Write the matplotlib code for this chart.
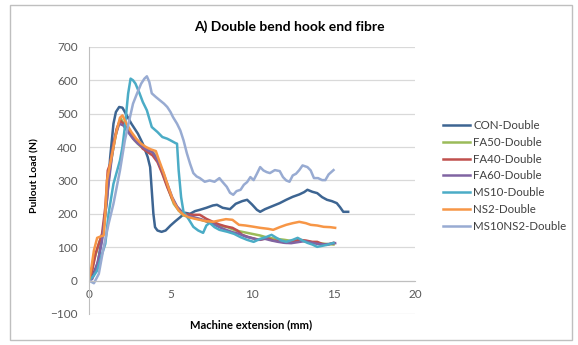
import numpy as np
import matplotlib
matplotlib.use('Agg')
from matplotlib import pyplot as plt
from matplotlib.patches import Rectangle

plt.rcParams['font.family'] = ['Lato', 'DejaVu Sans']

labels = ['CON-Double', 'FA50-Double', 'FA40-Double', 'FA60-Double',
          'MS10-Double', 'NS2-Double', 'MS10NS2-Double']
colors = ['#3d6592', '#9bbb59', '#c0504d', '#8064a2', '#4bacc6', '#f79646', '#98abd2']

con_x = [0, 0.2, 0.55, 0.85, 1.1, 1.3, 1.5, 1.65, 1.85, 2.05, 2.2, 2.6, 3.0, 3.3, 3.6, 3.75, 3.85, 3.95, 4.05, 4.2,
         4.45, 4.7, 5.0, 5.3, 5.6, 5.9, 6.2, 6.5, 6.8, 7.2, 7.6, 7.85, 8.2, 8.65, 9.0, 9.4, 9.7, 10.0, 10.3, 10.5,
         10.8, 11.2, 11.7, 12.1, 12.5, 12.9, 13.2, 13.4, 13.7, 14.0, 14.3, 14.6, 14.9, 15.2, 15.4, 15.6, 15.9]
con_y = [0, 12, 55, 143, 240, 370, 470, 505, 520, 518, 505, 470, 440, 410, 370, 340, 270, 200, 160, 150,
         146, 150, 165, 178, 190, 203, 200, 208, 212, 218, 225, 227, 218, 214, 230, 238, 242, 228, 212, 206,
         214, 222, 232, 242, 251, 258, 265, 272, 266, 262, 250, 242, 238, 232, 220, 206, 206]

fa50_x = [0, 0.3, 0.6, 0.9, 1.1, 1.3, 1.5, 1.7, 1.95, 2.2, 2.5, 2.8, 3.1, 3.4, 3.7, 4.0, 4.3, 4.6, 4.9, 5.2,
          5.5, 5.8, 6.2, 6.6, 7.0, 7.5, 8.0, 8.5, 9.0, 9.5, 10.0, 10.5, 11.0, 11.5, 12.0, 12.5, 13.0, 13.5, 14.0, 14.5, 15.0]
fa50_y = [0, 60, 110, 150, 260, 340, 400, 450, 485, 465, 440, 420, 405, 395, 390, 380, 350, 310, 270, 230,
          210, 195, 190, 186, 180, 172, 165, 160, 150, 145, 140, 135, 128, 125, 122, 118, 120, 116, 112, 110, 108]

fa40_x = [0, 0.2, 0.4, 0.6, 0.8, 1.0, 1.15, 1.3, 1.5, 1.7, 1.9, 2.1, 2.4, 2.7, 3.0, 3.3, 3.6, 3.9, 4.2, 4.5,
          4.8, 5.1, 5.4, 5.7, 6.0, 6.4, 6.8, 7.2, 7.6, 8.0, 8.4, 8.8, 9.1, 9.4, 9.8, 10.2, 10.5, 10.9, 11.3, 11.7,
          12.1, 12.5, 12.9, 13.3, 13.7, 14.0, 14.3, 14.6, 15.0]
fa40_y = [0, 30, 80, 110, 140, 220, 330, 350, 410, 455, 480, 470, 450, 430, 415, 395, 385, 375, 355, 320,
          280, 245, 220, 205, 198, 197, 197, 185, 176, 168, 162, 158, 150, 137, 130, 125, 122, 128, 120, 118,
          113, 118, 122, 120, 116, 116, 110, 107, 113]

fa60_x = [0, 0.2, 0.4, 0.6, 0.8, 1.0, 1.2, 1.4, 1.6, 1.85, 2.1, 2.4, 2.7, 3.0, 3.3, 3.6, 3.9, 4.2, 4.5, 4.8,
          5.1, 5.4, 5.7, 6.0, 6.4, 6.8, 7.2, 7.6, 8.0, 8.4, 8.8, 9.2, 9.6, 10.0, 10.4, 10.8, 11.2, 11.6, 12.0, 12.4,
          12.8, 13.2, 13.6, 14.0, 14.4, 14.8, 15.1]
fa60_y = [0, 5, 30, 70, 120, 200, 290, 370, 430, 470, 465, 445, 425, 410, 400, 390, 385, 360, 330, 290,
          250, 222, 205, 195, 190, 185, 178, 170, 160, 152, 145, 140, 132, 127, 122, 125, 120, 116, 113, 112,
          115, 118, 114, 110, 108, 110, 112]

ms10_x = [0, 0.3, 0.5, 0.8, 1.0, 1.2, 1.5, 1.9, 2.05, 2.2, 2.4, 2.55, 2.7, 2.85, 3.1, 3.3, 3.55, 3.85, 4.2, 4.5,
          4.8, 5.0, 5.3, 5.4, 5.5, 5.65, 5.8, 6.1, 6.4, 6.7, 7.0, 7.2, 7.4, 7.7, 8.0, 8.5, 8.9, 9.3, 9.7, 10.1,
          10.5, 10.9, 11.2, 11.5, 11.8, 12.1, 12.5, 12.8, 13.1, 13.4, 13.7, 14.0, 14.3, 14.6, 15.0]
ms10_y = [0, 15, 30, 80, 110, 200, 290, 360, 400, 460, 560, 605, 600, 590, 561, 535, 510, 460, 445, 430,
          425, 420, 412, 410, 330, 250, 205, 185, 161, 150, 143, 165, 173, 160, 152, 146, 140, 130, 122, 116,
          125, 131, 137, 128, 120, 116, 122, 128, 120, 113, 108, 101, 104, 107, 113]

ns2_x = [0, 0.15, 0.3, 0.5, 0.7, 0.9, 1.0, 1.1, 1.3, 1.5, 1.7, 1.9, 2.05, 2.3, 2.6, 2.9, 3.2, 3.5, 3.8, 4.1,
         4.3, 4.6, 4.9, 5.2, 5.5, 5.8, 6.1, 6.5, 6.8, 7.2, 7.6, 8.0, 8.4, 8.8, 9.2, 9.6, 10.0, 10.5, 11.0, 11.3,
         11.7, 12.1, 12.5, 12.9, 13.3, 13.6, 14.0, 14.4, 14.8, 15.1]
ns2_y = [0, 40, 90, 128, 132, 135, 200, 300, 350, 400, 450, 488, 495, 470, 445, 425, 410, 400, 393, 388,
         360, 320, 275, 235, 210, 197, 190, 185, 182, 178, 176, 180, 184, 182, 167, 165, 162, 158, 155, 152,
         160, 167, 172, 176, 172, 167, 165, 161, 160, 158]

ms10ns2_x = [0, 0.3, 0.6, 0.9, 1.2, 1.5, 1.9, 2.2, 2.4, 2.7, 2.95, 3.2, 3.4, 3.55, 3.7, 3.85, 4.1, 4.35, 4.6, 4.8,
             5.0, 5.15, 5.4, 5.6, 5.8, 6.0, 6.2, 6.4, 6.6, 6.8, 7.1, 7.4, 7.7, 8.0, 8.2, 8.45, 8.65, 8.85, 9.05, 9.3,
             9.5, 9.7, 9.9, 10.1, 10.3, 10.5, 10.7, 10.9, 11.1, 11.4, 11.7, 11.9, 12.1, 12.3, 12.5, 12.7, 12.9, 13.1, 13.4, 13.6,
             13.8, 14.05, 14.3, 14.5, 14.7, 15.0]
ms10ns2_y = [0, -8, 20, 100, 170, 230, 330, 420, 465, 530, 561, 590, 605, 612, 595, 561, 550, 540, 530, 520,
             505, 490, 470, 450, 420, 382, 350, 322, 312, 307, 296, 300, 296, 307, 295, 281, 263, 257, 268, 272,
             287, 295, 310, 301, 320, 340, 330, 325, 322, 331, 328, 310, 300, 296, 315, 320, 331, 345, 340, 330,
             307, 307, 301, 301, 318, 331]

series_x = [con_x, fa50_x, fa40_x, fa60_x, ms10_x, ns2_x, ms10ns2_x]
series_y = [con_y, fa50_y, fa40_y, fa60_y, ms10_y, ns2_y, ms10ns2_y]

fig = plt.figure(figsize=(5.78, 3.45), dpi=100)
ax = fig.add_axes([0.154, 0.090, 0.564, 0.774])

for xs, ys, lab, col in zip(series_x, series_y, labels, colors):
    ax.plot(xs, ys, color=col, lw=1.8, label=lab, solid_joinstyle='round')

ax.set_xlim(0, 20)
ax.set_ylim(-100, 700)
ax.set_xticks(np.arange(0, 21, 5))
ax.set_yticks(np.arange(-100, 701, 100))
ax.grid(axis='y', color='#d9d9d9', lw=0.9)
ax.set_axisbelow(True)
for s in ['top', 'right']:
    ax.spines[s].set_visible(False)
ax.spines['bottom'].set_position(('data', 0))
ax.spines['bottom'].set_color('#bfbfbf')
ax.spines['left'].set_color('#bfbfbf')
ax.tick_params(length=0, labelsize=8.5, labelcolor='#595959')
ax.tick_params(axis='x', pad=6)
ax.tick_params(axis='y', pad=8)

fig.text(0.5, 0.922, 'A) Double bend hook end fibre', ha='center', va='center',
         fontsize=10, fontweight='bold', color='#000000')
fig.text(0.061, 0.49, 'Pullout Load (N)', rotation=90, ha='center', va='center',
         fontsize=7.5, fontweight='bold', color='#000000')
fig.text(0.435, 0.058, 'Machine extension (mm)', ha='center', va='center',
         fontsize=8, fontweight='bold', color='#000000')

leg = fig.legend(loc='center left', bbox_to_anchor=(0.748, 0.49), frameon=False,
                 fontsize=8.3, handlelength=2.4, handletextpad=0.25, labelspacing=0.5)
for t in leg.get_texts():
    t.set_color('#404040')

fig.patches.append(Rectangle((0.017, 0.015), 0.972, 0.97, transform=fig.transFigure,
                             fill=False, edgecolor='#bfbfbf', lw=1.0))

plt.savefig('out.png', dpi=100)
